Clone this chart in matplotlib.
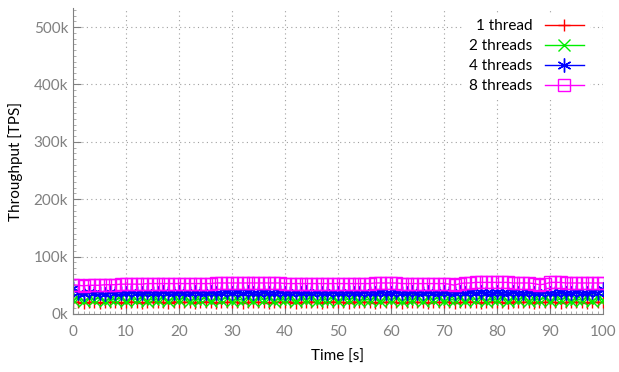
import numpy as np
import matplotlib.pyplot as plt
from matplotlib.ticker import MultipleLocator, FuncFormatter

plt.rcParams['font.family'] = ['Lato', 'DejaVu Sans']

# time axis, one sample per second
time_s = list(range(0, 101))

# throughput in thousands of TPS
tps_1 = [21, 20, 19, 20, 21, 19, 20, 20, 21, 19, 20, 21, 20, 19, 20, 21, 20, 20, 19, 21,
         20, 20, 21, 19, 20, 21, 20, 19, 20, 20, 21, 20, 19, 20, 21, 20, 20, 19, 21, 20,
         20, 21, 19, 20, 20, 21, 20, 19, 20, 21, 20, 20, 19, 21, 20, 20, 21, 19, 20, 20,
         21, 20, 19, 20, 21, 20, 20, 19, 21, 20, 20, 21, 19, 20, 20, 21, 20, 19, 20, 21,
         20, 20, 19, 21, 20, 20, 21, 19, 20, 20, 21, 20, 19, 20, 21, 20, 20, 19, 21, 20, 20]
tps_2 = [24, 28, 23, 27, 25, 28, 23, 26, 24, 28, 22, 27, 25, 28, 23, 26, 24, 28, 23, 27,
         25, 28, 23, 26, 24, 28, 22, 27, 25, 28, 23, 26, 24, 28, 23, 27, 25, 28, 23, 26,
         24, 28, 22, 27, 25, 28, 23, 26, 24, 28, 23, 27, 25, 28, 23, 26, 24, 28, 22, 27,
         25, 28, 23, 26, 24, 28, 23, 27, 25, 28, 23, 26, 24, 28, 22, 27, 25, 28, 23, 26,
         24, 28, 23, 27, 25, 28, 23, 26, 24, 28, 22, 27, 25, 28, 23, 26, 24, 28, 23, 27, 25]
tps_4 = [45, 37, 35, 38, 36, 37, 35, 38, 36, 37, 36, 38, 37, 36, 38, 37, 36, 38, 37, 36,
         38, 37, 36, 38, 37, 36, 38, 37, 36, 38, 37, 39, 36, 38, 37, 36, 38, 37, 36, 38,
         37, 36, 38, 37, 39, 36, 38, 37, 36, 38, 37, 36, 38, 37, 36, 38, 37, 36, 38, 37,
         36, 38, 37, 36, 38, 37, 36, 38, 37, 36, 38, 37, 36, 38, 37, 39, 36, 38, 37, 36,
         38, 37, 36, 38, 37, 36, 38, 37, 36, 38, 37, 36, 38, 37, 36, 38, 37, 36, 38, 37, 44]
tps_8 = [51, 50, 49, 50, 50, 50, 51, 51, 51, 52, 52, 52, 52, 52, 53, 53, 53, 53, 53, 53,
         53, 53, 53, 53, 53, 53, 53, 54, 54, 54, 54, 54, 54, 54, 54, 54, 54, 54, 54, 54,
         53, 53, 53, 53, 53, 53, 53, 53, 53, 53, 53, 53, 53, 53, 53, 53, 53, 54, 54, 54,
         54, 54, 53, 53, 53, 53, 53, 53, 53, 53, 53, 52, 50, 53, 54, 54, 55, 55, 55, 55,
         55, 55, 55, 54, 54, 54, 54, 53, 51, 52, 55, 55, 55, 54, 54, 54, 54, 54, 54, 54, 54]

series = [
    ("1 thread", tps_1, "#ff0000", "+", 9),
    ("2 threads", tps_2, "#00ee00", "x", 8),
    ("4 threads", tps_4, "#0000ff", (6, 2, 0), 10),
    ("8 threads", tps_8, "#ff00ff", "s", 8),
]

fig = plt.figure(figsize=(6.19, 3.72), dpi=100)
ax = fig.add_axes([0.118, 0.156, 0.856, 0.822])

for label, vals, col, mk, ms in series:
    ax.plot(time_s, np.array(vals) * 1000, color=col, marker=mk, markersize=ms,
            markerfacecolor='none', markeredgecolor=col, markeredgewidth=1.0,
            linewidth=1.0, label=label)

ax.set_xlim(0, 100)
ax.set_ylim(0, 533000)
ax.xaxis.set_major_locator(MultipleLocator(10))
ax.xaxis.set_minor_locator(MultipleLocator(1))
ax.yaxis.set_major_locator(MultipleLocator(100000))
ax.yaxis.set_minor_locator(MultipleLocator(10000))
ax.yaxis.set_major_formatter(FuncFormatter(lambda v, p: "%dk" % (v / 1000)))

ax.grid(True, which='major', color='#a0a0a0', linestyle=(0, (1, 3)), linewidth=0.8)
for s in ['top', 'right']:
    ax.spines[s].set_visible(False)
for s in ['left', 'bottom']:
    ax.spines[s].set_color('#808080')
ax.tick_params(which='major', length=6, color='#808080', labelcolor='#808080',
               labelsize=11, direction='in')
ax.tick_params(which='minor', length=2, color='#a0a0a0', direction='in')
ax.tick_params(axis='x', pad=8)

ax.set_xlabel("Time [s]", fontsize=11, labelpad=8)
ax.set_ylabel("Throughput [TPS]", fontsize=11, labelpad=8)

leg = ax.legend(loc='upper right', markerfirst=False, frameon=True, fontsize=11,
                handlelength=2.6, borderaxespad=0.3, labelspacing=0.4,
                bbox_to_anchor=(0.985, 1.0))
leg.get_frame().set_facecolor('white')
leg.get_frame().set_edgecolor('none')
leg.get_frame().set_alpha(1.0)

fig.savefig("out.png", dpi=100)
